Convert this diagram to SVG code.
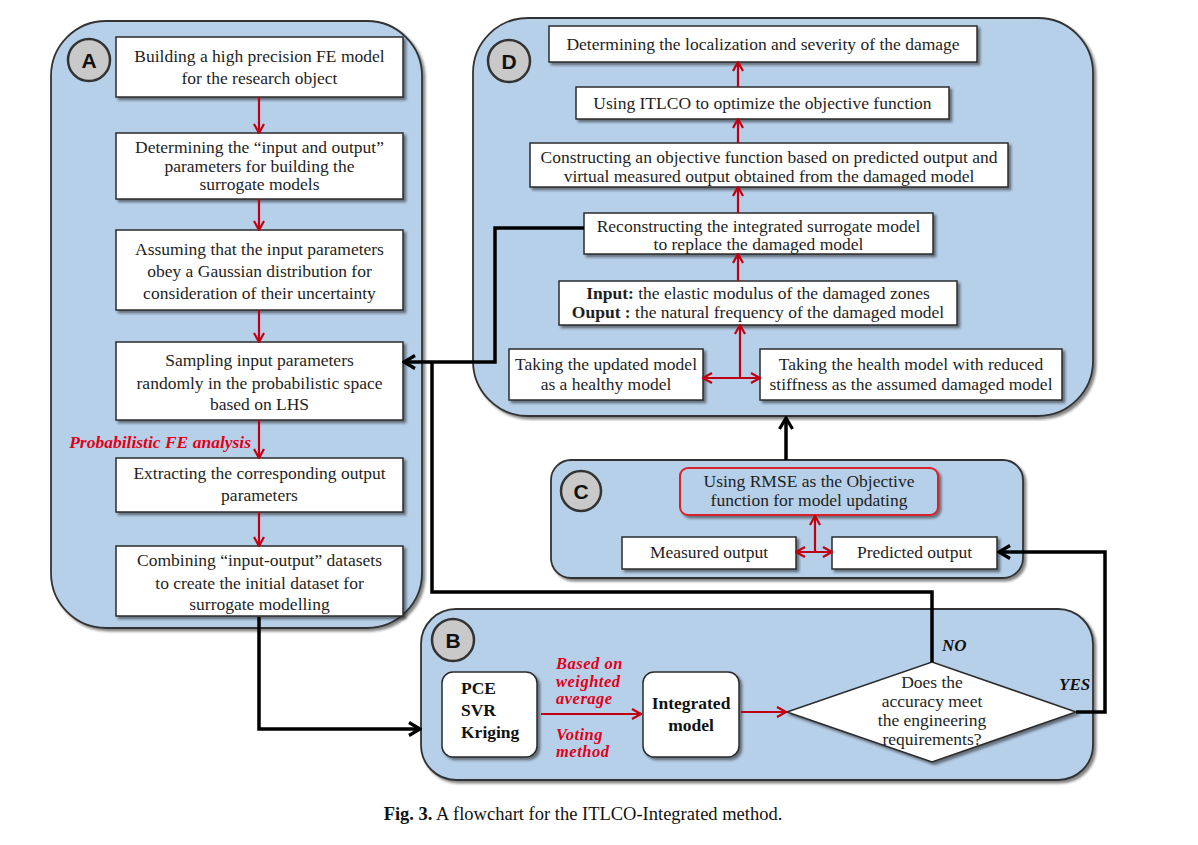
<svg xmlns="http://www.w3.org/2000/svg" width="1198" height="845" viewBox="0 0 1198 845">
<defs>
<style>
.panel{fill:#b7d0ea;stroke:#333;stroke-width:1.8}
.box{fill:#fff;stroke:#2b2b2b;stroke-width:1.5}
.t{font-family:"Liberation Serif","Times New Roman",serif;font-size:17.5px;fill:#1e1e1e;text-anchor:middle}
.tb{font-family:"Liberation Serif","Times New Roman",serif;font-size:17.5px;fill:#111;font-weight:bold}
.red{font-family:"Liberation Serif","Times New Roman",serif;font-size:17.5px;fill:#e00018;font-weight:bold;font-style:italic}
.redb{font-family:"Liberation Serif","Times New Roman",serif;font-size:16.5px;letter-spacing:0.5px;fill:#e00018;font-weight:bold;font-style:italic}
.lab{font-family:"Liberation Serif","Times New Roman",serif;font-size:17px;fill:#111;font-weight:bold;font-style:italic}
.circ{fill:#c9c9c9;stroke:#333;stroke-width:2.5}
.cl{font-family:"Liberation Sans",Arial,sans-serif;font-size:21px;font-weight:bold;fill:#111;text-anchor:middle}
.ra{fill:none;stroke:#c00010;stroke-width:2.2}
.ba{fill:none;stroke:#000;stroke-width:3.5;stroke-linejoin:miter}
</style>
<filter id="sh" x="-10%" y="-20%" width="125%" height="150%">
<feDropShadow dx="2.5" dy="2.5" stdDeviation="1.2" flood-color="#222" flood-opacity="0.55"/>
</filter>
<marker id="mr" viewBox="0 0 12 12" refX="11" refY="6" markerWidth="12" markerHeight="12" markerUnits="userSpaceOnUse" orient="auto-start-reverse">
<path d="M2,1 L11,6 L2,11" fill="none" stroke="#c00010" stroke-width="2.2"/>
</marker>
<marker id="mb" viewBox="0 0 16 16" refX="14" refY="8" markerWidth="16" markerHeight="16" markerUnits="userSpaceOnUse" orient="auto-start-reverse">
<path d="M3,1.5 L14,8 L3,14.5" fill="none" stroke="#000" stroke-width="3.2"/>
</marker>
</defs>
<rect width="1198" height="845" fill="#fff"/>

<!-- Panels -->
<g id="panelA"><rect class="panel" x="51" y="21" width="371" height="607" rx="55" filter="url(#sh)"/>
<circle class="circ" cx="89" cy="60" r="21"/><text class="cl" x="89" y="67.5">A</text></g>
<g id="panelD"><rect class="panel" x="473" y="18" width="620" height="398" rx="55" filter="url(#sh)"/>
<circle class="circ" cx="509" cy="61" r="21"/><text class="cl" x="509" y="68.5">D</text></g>
<g id="panelC"><rect class="panel" x="551" y="460" width="472" height="118" rx="20" filter="url(#sh)"/>
<circle class="circ" cx="581" cy="491" r="20"/><text class="cl" x="581" y="498.5">C</text></g>
<g id="panelB"><rect class="panel" x="421" y="609" width="672" height="171" rx="35" filter="url(#sh)"/>
<circle class="circ" cx="453" cy="640" r="21"/><text class="cl" x="453" y="647.5">B</text></g>

<!-- Panel A nodes -->
<g id="a1"><rect class="box" x="116" y="37" width="287" height="60" filter="url(#sh)"/>
<text class="t" x="259.5" y="62">Building a high precision FE model</text>
<text class="t" x="259.5" y="84">for the research object</text></g>
<g id="a2"><rect class="box" x="116" y="133" width="287" height="66" filter="url(#sh)"/>
<text class="t" x="259.5" y="153">Determining the “input and output”</text>
<text class="t" x="259.5" y="172">parameters for building the</text>
<text class="t" x="259.5" y="190">surrogate models</text></g>
<g id="a3"><rect class="box" x="116" y="230" width="287" height="80" filter="url(#sh)"/>
<text class="t" x="259.5" y="255">Assuming that the input parameters</text>
<text class="t" x="259.5" y="277">obey a Gaussian distribution for</text>
<text class="t" x="259.5" y="299">consideration of their uncertainty</text></g>
<g id="a4"><rect class="box" x="116" y="342" width="287" height="78" filter="url(#sh)"/>
<text class="t" x="259.5" y="366">Sampling input parameters</text>
<text class="t" x="259.5" y="389">randomly in the probabilistic space</text>
<text class="t" x="259.5" y="410">based on LHS</text></g>
<g id="a5"><rect class="box" x="116" y="458" width="287" height="54" filter="url(#sh)"/>
<text class="t" x="259.5" y="479">Extracting the corresponding output</text>
<text class="t" x="259.5" y="501">parameters</text></g>
<g id="a6"><rect class="box" x="116" y="546" width="287" height="70" filter="url(#sh)"/>
<text class="t" x="259.5" y="566">Combining “input-output” datasets</text>
<text class="t" x="259.5" y="589">to create the initial dataset for</text>
<text class="t" x="259.5" y="610">surrogate modelling</text></g>
<text class="red" x="251" y="448" text-anchor="end">Probabilistic FE analysis</text>

<!-- Panel D nodes -->
<g id="d1"><rect class="box" x="549" y="26" width="428" height="36" filter="url(#sh)"/>
<text class="t" x="763" y="50">Determining the localization and severity of the damage</text></g>
<g id="d2"><rect class="box" x="576" y="87" width="373" height="32" filter="url(#sh)"/>
<text class="t" x="762.5" y="109">Using ITLCO to optimize the objective function</text></g>
<g id="d3"><rect class="box" x="530" y="143" width="478" height="44" filter="url(#sh)"/>
<text class="t" x="769" y="163">Constructing an objective function based on predicted output and</text>
<text class="t" x="769" y="182">virtual measured output obtained from the damaged model</text></g>
<g id="d4"><rect class="box" x="584" y="213" width="349" height="41" filter="url(#sh)"/>
<text class="t" x="758.5" y="232">Reconstructing the integrated surrogate model</text>
<text class="t" x="758.5" y="250">to replace the damaged model</text></g>
<g id="d5"><rect class="box" x="559" y="281" width="398" height="44" filter="url(#sh)"/>
<text class="t" x="758" y="299"><tspan font-weight="bold">Input:</tspan> the elastic modulus of the damaged zones</text>
<text class="t" x="758" y="318"><tspan font-weight="bold">Ouput :</tspan> the natural frequency of the damaged model</text></g>
<g id="d6"><rect class="box" x="509" y="349" width="194" height="51" filter="url(#sh)"/>
<text class="t" x="606" y="370">Taking the updated model</text>
<text class="t" x="606" y="390">as a healthy model</text></g>
<g id="d7"><rect class="box" x="760" y="349" width="302" height="51" filter="url(#sh)"/>
<text class="t" x="911" y="370">Taking the health model with reduced</text>
<text class="t" x="911" y="390">stiffness as the assumed damaged model</text></g>

<!-- Panel C nodes -->
<g id="c1"><rect x="680" y="468" width="258" height="47" rx="8" fill="#b7d0ea" stroke="#d8202c" stroke-width="2" filter="url(#sh)"/>
<text class="t" x="809" y="487">Using RMSE as the Objective</text>
<text class="t" x="809" y="506">function for model updating</text></g>
<g id="c2"><rect class="box" x="622" y="537" width="174" height="32" filter="url(#sh)"/>
<text class="t" x="709" y="558">Measured output</text></g>
<g id="c3"><rect class="box" x="832" y="537" width="165" height="32" filter="url(#sh)"/>
<text class="t" x="914.5" y="558">Predicted output</text></g>

<!-- Panel B nodes -->
<g id="b1"><rect class="box" x="442" y="672" width="95" height="85" rx="11" filter="url(#sh)"/>
<text class="tb" x="461" y="694">PCE</text>
<text class="tb" x="461" y="716">SVR</text>
<text class="tb" x="461" y="738">Kriging</text></g>
<g id="b2"><rect class="box" x="643" y="672" width="96" height="85" rx="11" filter="url(#sh)"/>
<text class="tb" x="691" y="709" text-anchor="middle">Integrated</text>
<text class="tb" x="691" y="731" text-anchor="middle">model</text></g>
<g id="b3"><polygon points="787,712 932,662 1076,712 932,762" fill="#fff" stroke="#2b2b2b" stroke-width="1.5" filter="url(#sh)"/>
<text class="t" x="932" y="688">Does the</text>
<text class="t" x="932" y="707">accuracy meet</text>
<text class="t" x="932" y="726">the engineering</text>
<text class="t" x="932" y="745">requirements?</text></g>
<g id="blabels">
<text class="redb" x="556" y="669">Based on</text>
<text class="redb" x="556" y="687">weighted</text>
<text class="redb" x="556" y="704">average</text>
<text class="redb" x="556" y="740">Voting</text>
<text class="redb" x="556" y="757">method</text>
<text class="lab" x="942" y="651">NO</text>
<text class="lab" x="1059" y="690">YES</text>
</g>

<!-- Connectors -->
<g id="connectors">
<line class="ra" x1="259" y1="97" x2="259" y2="133" marker-end="url(#mr)"/>
<line class="ra" x1="259" y1="199" x2="259" y2="230" marker-end="url(#mr)"/>
<line class="ra" x1="259" y1="310" x2="259" y2="342" marker-end="url(#mr)"/>
<line class="ra" x1="259" y1="420" x2="259" y2="458" marker-end="url(#mr)"/>
<line class="ra" x1="259" y1="512" x2="259" y2="546" marker-end="url(#mr)"/>
<line class="ra" x1="738" y1="87" x2="738" y2="62" marker-end="url(#mr)"/>
<line class="ra" x1="738" y1="143" x2="738" y2="119" marker-end="url(#mr)"/>
<line class="ra" x1="738" y1="213" x2="738" y2="187" marker-end="url(#mr)"/>
<line class="ra" x1="738" y1="281" x2="738" y2="254" marker-end="url(#mr)"/>
<line class="ra" x1="740" y1="378" x2="740" y2="325" marker-end="url(#mr)"/>
<line class="ra" x1="703" y1="378" x2="760" y2="378" marker-start="url(#mr)" marker-end="url(#mr)"/>
<line class="ra" x1="815" y1="552" x2="815" y2="516" marker-end="url(#mr)"/>
<line class="ra" x1="796" y1="552" x2="832" y2="552" marker-start="url(#mr)" marker-end="url(#mr)"/>
<line class="ra" x1="541" y1="714" x2="641" y2="714" marker-end="url(#mr)"/>
<line class="ra" x1="741" y1="712" x2="786" y2="712" marker-end="url(#mr)"/>
<polyline class="ba" points="584,228 495,228 495,362 404,362" marker-end="url(#mb)"/>
<polyline class="ba" points="932,662 932,592 432,592 432,362"/>
<polyline class="ba" points="1076,712 1105,712 1105,552 999,552" marker-end="url(#mb)"/>
<polyline class="ba" points="259,617 259,729 420,729" marker-end="url(#mb)"/>
<line class="ba" x1="786" y1="460" x2="786" y2="418" marker-end="url(#mb)"/>
</g>

<text x="583" y="820" text-anchor="middle" font-family="'Liberation Serif','Times New Roman',serif" font-size="18.5" fill="#111"><tspan font-weight="bold">Fig. 3.</tspan>  A flowchart for the ITLCO-Integrated method.</text>
</svg>
